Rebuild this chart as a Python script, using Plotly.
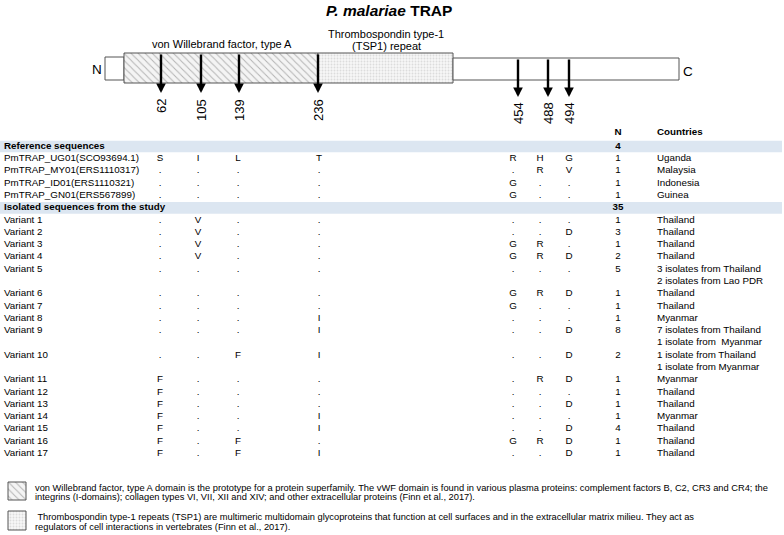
import plotly.graph_objects as go

# ---------------- data ----------------
title_text = "<b><i>P. malariae</i> TRAP</b>"
vwa_label = "von Willebrand factor, type A"
tsp_label = ["Thrombospondin type-1", "(TSP1) repeat"]

positions = ["62", "105", "139", "236", "454", "488", "494"]

group_labels = ["Reference sequences", "Isolated sequences from the study"]

ref_names = ["PmTRAP_UG01(SCO93694.1)", "PmTRAP_MY01(ERS1110317)",
             "PmTRAP_ID01(ERS1110321)", "PmTRAP_GN01(ERS567899)"]
ref_residues = ["SILTRHG", ".....RV", "....G..", "....G.."]
ref_n = [1, 1, 1, 1]
ref_countries = [["Uganda"], ["Malaysia"], ["Indonesia"], ["Guinea"]]

variant_names = ["Variant 1", "Variant 2", "Variant 3", "Variant 4", "Variant 5",
                 "Variant 6", "Variant 7", "Variant 8", "Variant 9", "Variant 10",
                 "Variant 11", "Variant 12", "Variant 13", "Variant 14", "Variant 15",
                 "Variant 16", "Variant 17"]
variant_residues = [".V.....", ".V....D", ".V..GR.", ".V..GRD", ".......",
                    "....GRD", "....G..", "...I...", "...I..D", "..FI..D",
                    "F....RD", "F......", "F.....D", "F..I...", "F..I..D",
                    "F.F.GRD", "F.FI..D"]
variant_n = [1, 3, 1, 2, 5, 1, 1, 1, 8, 2, 1, 1, 1, 1, 4, 1, 1]
variant_countries = [["Thailand"], ["Thailand"], ["Thailand"], ["Thailand"],
                     ["3 isolates from Thailand", "2 isolates from Lao PDR"],
                     ["Thailand"], ["Thailand"], ["Myanmar"],
                     ["7 isolates from Thailand", "1 isolate from  Myanmar"],
                     ["1 isolate from Thailand", "1 isolate from Myanmar"],
                     ["Myanmar"], ["Thailand"], ["Thailand"], ["Myanmar"],
                     ["Thailand"], ["Thailand"], ["Thailand"]]

foot_vwa = ["von Willebrand factor, type A domain is the prototype for a protein superfamily. The vWF domain is found in various plasma proteins: complement factors B, C2, CR3 and CR4; the",
            "integrins (I-domains); collagen types VI, VII, XII and XIV; and other extracellular proteins (Finn et al., 2017)."]
foot_tsp = [" Thrombospondin type-1 repeats (TSP1) are multimeric multidomain glycoproteins that function at cell surfaces and in the extracellular matrix milieu. They act as",
            "regulators of cell interactions in vertebrates (Finn et al., 2017)."]

# ---------------- layout constants (page pixels) ----------------
FONT = "Arial, Liberation Sans, sans-serif"
segments = [(105, 124, 57, 80, "plain"), (124, 318, 53, 83, "vwa"),
            (318, 453, 53, 83, "tsp"), (453, 679, 58, 80, "plain")]
arrow_x = [161, 201, 239, 318, 518, 548, 569]
arrow_top = [53, 53, 53, 53, 58, 58, 58]
arrow_tip = [93, 93, 93, 93, 97, 97, 97]
label_top = [97, 97, 97, 97, 100, 100, 100]

X_NAME = 4
COL_X = [160, 198, 238, 319, 513, 540, 569]
X_N = 618
X_COUNTRY = 657
Y_FIRST = 146.5
PITCH = 12.28
BAND_COLOR = "#dce6f1"

styles = {
    "plain": dict(color="white"),
    "vwa": dict(color="#f4f4f4", pattern=dict(shape="\\", fgcolor="#b4b4b4", bgcolor="#f4f4f4",
                                               size=5, solidity=0.2, fillmode="replace")),
    "tsp": dict(color="#f6f6f6", pattern=dict(shape=".", fgcolor="#dcdcdc", bgcolor="#f7f7f7",
                                               size=3, solidity=0.3, fillmode="replace")),
}

fig = go.Figure()

# ---------------- schematic ----------------
for (x0, x1, y0, y1, st) in segments:
    m = dict(styles[st])
    m["line"] = dict(color="#555555", width=1)
    fig.add_trace(go.Bar(x=[x1 - x0], base=[x0], y=[(y0 + y1) / 2], width=[y1 - y0],
                         orientation="h", marker=m, hoverinfo="skip"))

for i, p in enumerate(positions):
    fig.add_annotation(x=arrow_x[i], y=arrow_tip[i], ax=arrow_x[i], ay=arrow_top[i],
                       xref="x", yref="y", axref="x", ayref="y", text="",
                       showarrow=True, arrowhead=2, arrowsize=0.8, arrowwidth=2.4,
                       arrowcolor="black")
    fig.add_annotation(x=arrow_x[i], y=label_top[i], xref="x", yref="y", text=p,
                       textangle=-90, showarrow=False, xanchor="center", yanchor="top",
                       font=dict(family=FONT, size=13, color="black"))

fig.add_annotation(x=97, y=69, text="N", showarrow=False, font=dict(family=FONT, size=13.5, color="black"))
fig.add_annotation(x=688, y=71, text="C", showarrow=False, font=dict(family=FONT, size=13.5, color="black"))
fig.add_annotation(x=222, y=44, text=vwa_label, showarrow=False, font=dict(family=FONT, size=11, color="black"))
fig.add_annotation(x=386, y=34, text=tsp_label[0], showarrow=False, font=dict(family=FONT, size=11, color="black"))
fig.add_annotation(x=386, y=46, text=tsp_label[1], showarrow=False, font=dict(family=FONT, size=11, color="black"))
fig.add_annotation(x=389, y=10, text=title_text, showarrow=False, font=dict(family=FONT, size=15.5, color="black"))

# ---------------- table ----------------
rows = []  # (line_index, kind, name, residues, n, country)
line = 0
for g, (names, res, ns, cts) in enumerate([(ref_names, ref_residues, ref_n, ref_countries),
                                           (variant_names, variant_residues, variant_n, variant_countries)]):
    rows.append((line, "band", group_labels[g], None, sum(ns), None))
    line += 1
    for nm, r, n, c in zip(names, res, ns, cts):
        rows.append((line, "row", nm, r, n, c[0]))
        for extra in c[1:]:
            line += 1
            rows.append((line, "extra", None, None, None, extra))
        line += 1

def ypos(li):
    return Y_FIRST + li * PITCH

for li, kind, nm, r, n, c in rows:
    if kind == "band":
        y = ypos(li)
        fig.add_shape(type="rect", x0=0, x1=782, y0=y - 5.8, y1=y + 5.8,
                      fillcolor=BAND_COLOR, line=dict(width=0), layer="below")

tf = dict(family=FONT, size=9.8, color="black")
fig.add_trace(go.Scatter(x=[X_N], y=[ypos(0) - 13.5], mode="text", text=["<b>N</b>"],
                         textposition="middle center", textfont=tf, hoverinfo="skip"))
fig.add_trace(go.Scatter(x=[X_COUNTRY], y=[ypos(0) - 13.5], mode="text", text=["<b>Countries</b>"],
                         textposition="middle right", textfont=tf, hoverinfo="skip"))

name_y, name_t = [], []
for li, kind, nm, r, n, c in rows:
    if nm is not None:
        name_y.append(ypos(li))
        name_t.append("<b>%s</b>" % nm if kind == "band" else nm)
fig.add_trace(go.Scatter(x=[X_NAME] * len(name_y), y=name_y, mode="text", text=name_t,
                         textposition="middle right", textfont=tf, hoverinfo="skip"))

for ci, cx in enumerate(COL_X):
    ys = [ypos(li) for li, kind, nm, r, n, c in rows if kind == "row"]
    ts = [r[ci] for li, kind, nm, r, n, c in rows if kind == "row"]
    fig.add_trace(go.Scatter(x=[cx] * len(ys), y=ys, mode="text", text=ts,
                             textposition="middle center", textfont=tf, hoverinfo="skip"))

n_y = [ypos(li) for li, kind, nm, r, n, c in rows if n is not None]
n_t = [("<b>%d</b>" % n if kind == "band" else str(n)) for li, kind, nm, r, n, c in rows if n is not None]
fig.add_trace(go.Scatter(x=[X_N] * len(n_y), y=n_y, mode="text", text=n_t,
                         textposition="middle center", textfont=tf, hoverinfo="skip"))

c_y = [ypos(li) for li, kind, nm, r, n, c in rows if c is not None]
c_t = [c for li, kind, nm, r, n, c in rows if c is not None]
fig.add_trace(go.Scatter(x=[X_COUNTRY] * len(c_y), y=c_y, mode="text", text=c_t,
                         textposition="middle right", textfont=tf, hoverinfo="skip"))

# ---------------- footnotes ----------------
foot_boxes = [(8, 26, 482, 500, "vwa"), (8, 26, 511, 530, "tsp")]
for (x0, x1, y0, y1, st) in foot_boxes:
    m = dict(styles[st])
    m["line"] = dict(color="#555555", width=1)
    fig.add_trace(go.Bar(x=[x1 - x0], base=[x0], y=[(y0 + y1) / 2], width=[y1 - y0],
                         orientation="h", marker=m, hoverinfo="skip"))

ff = dict(family=FONT, size=9.3, color="black")
for k, t in enumerate(foot_vwa):
    fig.add_annotation(x=33, y=487.5 + k * 9.5, text=t, showarrow=False, xanchor="left",
                       yanchor="middle", font=ff)
for k, t in enumerate(foot_tsp):
    fig.add_annotation(x=33, y=517 + k * 9.5, text=t, showarrow=False, xanchor="left",
                       yanchor="middle", font=ff)

fig.update_layout(
    width=784, height=535, margin=dict(l=0, r=0, t=0, b=0),
    paper_bgcolor="white", plot_bgcolor="white", showlegend=False, barmode="overlay",
    xaxis=dict(range=[0, 784], visible=False, fixedrange=True),
    yaxis=dict(range=[535, 0], visible=False, fixedrange=True),
)
fig.write_html("out.html", config={"displayModeBar": False, "staticPlot": True},
               post_script="document.body.style.margin='0';document.body.style.overflow='hidden';")
